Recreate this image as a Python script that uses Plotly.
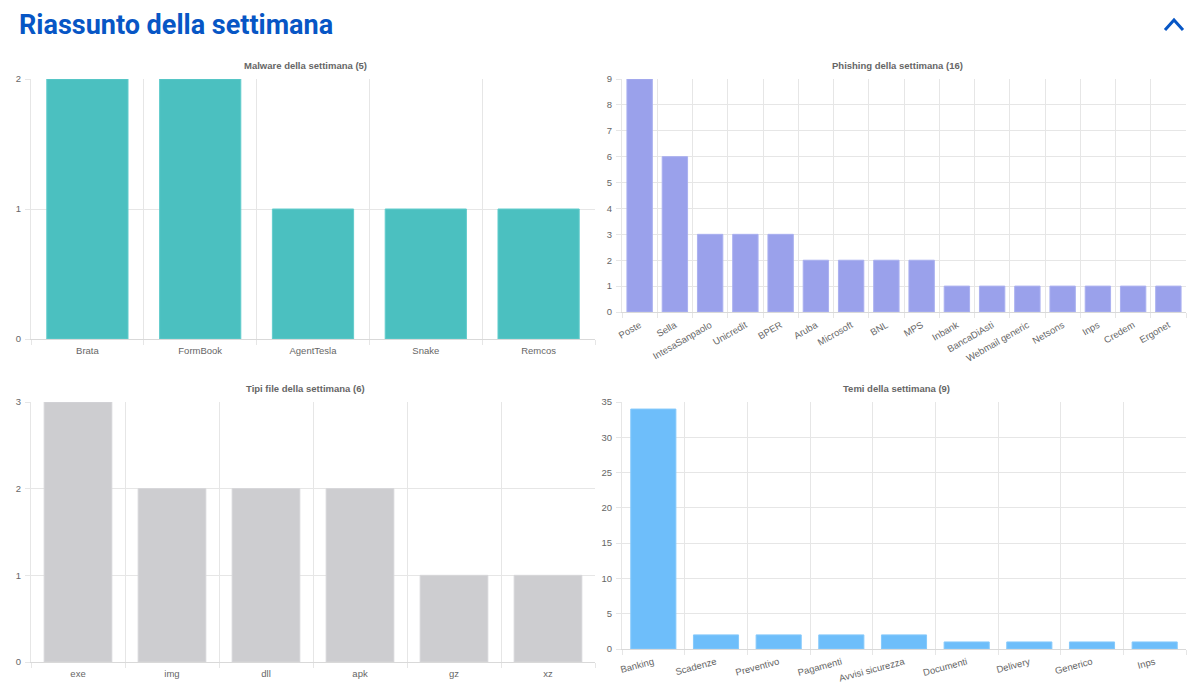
import plotly.graph_objects as go

W, H = 1200, 695

malware_labels = ["Brata", "FormBook", "AgentTesla", "Snake", "Remcos"]
malware_values = [2, 2, 1, 1, 1]

phishing_labels = ["Poste", "Sella", "IntesaSanpaolo", "Unicredit", "BPER", "Aruba",
                   "Microsoft", "BNL", "MPS", "Inbank", "BancaDiAsti", "Webmail generic",
                   "Netsons", "Inps", "Credem", "Ergonet"]
phishing_values = [9, 6, 3, 3, 3, 2, 2, 2, 2, 1, 1, 1, 1, 1, 1, 1]

filetype_labels = ["exe", "img", "dll", "apk", "gz", "xz"]
filetype_values = [3, 2, 2, 2, 1, 1]

themes_labels = ["Banking", "Scadenze", "Preventivo", "Pagamenti", "Avvisi sicurezza",
                 "Documenti", "Delivery", "Generico", "Inps"]
themes_values = [34, 2, 2, 2, 2, 1, 1, 1, 1]

FONT = "Liberation Sans, Arial, Helvetica, sans-serif"
GRID = "#e6e6e6"
TXT = "#666666"
FS = 9.5

def px(x):
    return x / W

def py(y):
    return 1 - y / H

panels = [
    (malware_labels, malware_values, "#4bc0c0", "#62cccc", "Malware della settimana (5)",
     (31, 595, 79, 339), 2, 1, 0, 305, 66),
    (phishing_labels, phishing_values, "#9aa1eb", "#aab0f0", "Phishing della settimana (16)",
     (622, 1186, 79, 312), 9, 1, -30, 897, 66),
    (filetype_labels, filetype_values, "#cdcdd0", "#d6d6d9", "Tipi file della settimana (6)",
     (31, 595, 402, 662), 3, 1, 0, 305, 388),
    (themes_labels, themes_values, "#6ebefa", "#86c9fb", "Temi della settimana (9)",
     (622, 1186, 402, 649), 35, 5, -15, 896, 388),
]

fig = go.Figure()
layout = dict(
    width=W, height=H,
    margin=dict(l=0, r=0, t=0, b=0, pad=0, autoexpand=False),
    paper_bgcolor="white", plot_bgcolor="white",
    showlegend=False,
    bargap=0.28,
    font=dict(family=FONT, size=FS, color=TXT),
    annotations=[], shapes=[],
)

for i, (labels, values, color, border, title, box, ymax, dtick, angle, tx, ty) in enumerate(panels):
    n = "" if i == 0 else str(i + 1)
    x0, x1, yt, yb = box
    fig.add_trace(go.Bar(
        x=labels, y=values, xaxis="x" + n, yaxis="y" + n,
        marker=dict(color=color, line=dict(color=border, width=1)),
        hoverinfo="x+y",
    ))
    layout["xaxis" + n] = dict(
        domain=[px(x0), px(x1)], anchor="y" + n,
        type="category", tickson="boundaries",
        showgrid=True, gridcolor=GRID, gridwidth=1,
        ticks="outside", ticklen=5, tickcolor=GRID,
        showline=True, linecolor="#d9d9d9", linewidth=1,
        tickangle=angle, tickfont=dict(size=FS, color=TXT),
        ticklabelstandoff=3,
        automargin=False, fixedrange=True,
    )
    layout["yaxis" + n] = dict(
        domain=[py(yb), py(yt)], anchor="x" + n,
        range=[0, ymax], dtick=dtick, tick0=0,
        showgrid=True, gridcolor=GRID, gridwidth=1,
        ticks="outside", ticklen=5, tickcolor=GRID,
        showline=True, linecolor=GRID, linewidth=1,
        zeroline=False,
        tickfont=dict(size=FS, color=TXT),
        ticklabelstandoff=2,
        automargin=False, fixedrange=True,
    )
    layout["annotations"].append(dict(
        text="<b>" + title + "</b>", x=px(tx), y=py(ty), xref="paper", yref="paper",
        xanchor="center", yanchor="middle", showarrow=False,
        font=dict(family=FONT, size=FS, color=TXT),
    ))

layout["annotations"].append(dict(
    text="<b>Riassunto della settimana</b>", x=px(17), y=py(25), xref="paper", yref="paper",
    xanchor="left", yanchor="middle", showarrow=False,
    font=dict(family="Roboto, sans-serif", size=27, color="#0756c5"),
))

layout["shapes"].append(dict(
    type="path", xref="paper", yref="paper",
    path=f"M {px(1165)} {py(30)} L {px(1174)} {py(20)} L {px(1183)} {py(30)}",
    line=dict(color="#0756c5", width=3),
))

fig.update_layout(**layout)
fig.write_html("out.html")
